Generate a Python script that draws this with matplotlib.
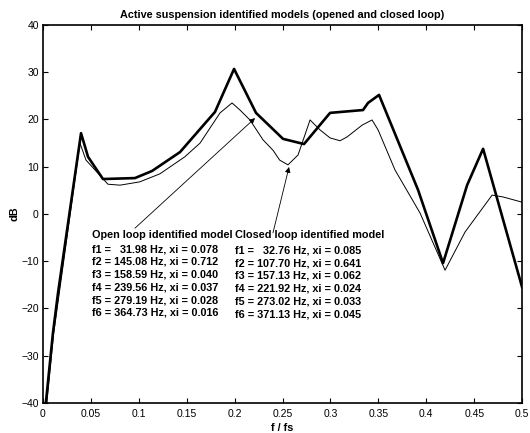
import numpy as np
import matplotlib
matplotlib.use('Agg')
import matplotlib.pyplot as plt

plt.rcParams['font.family'] = ['Liberation Sans', 'DejaVu Sans']

# open loop identified model (thick curve)
f_open = [0.003, 0.0104, 0.0157, 0.0397, 0.047, 0.0626, 0.096, 0.1138, 0.143, 0.1795,
          0.1994, 0.2223, 0.2505, 0.2724, 0.2996, 0.334, 0.3392, 0.3507, 0.3914, 0.4175,
          0.4426, 0.4593, 0.5]
db_open = [-40, -25.2, -16.7, 17.1, 12.1, 7.4, 7.6, 9.1, 13.1, 21.6,
           30.7, 21.4, 15.9, 14.8, 21.4, 22.0, 23.5, 25.2, 5.1, -10.4,
           6.1, 13.8, -15.5]

# closed loop identified model (thin curve)
f_closed = [0.004, 0.011, 0.0167, 0.0386, 0.0449, 0.0678, 0.0804, 0.101, 0.122, 0.148,
            0.1639, 0.1848, 0.1973, 0.2056, 0.216, 0.2296, 0.240, 0.247, 0.2557, 0.2662,
            0.2787, 0.2891, 0.2996, 0.31, 0.3173, 0.333, 0.3434, 0.3497, 0.3674, 0.3935,
            0.4196, 0.4405, 0.4687, 0.4802, 0.5]
db_closed = [-40, -25.5, -17.2, 15.0, 11.4, 6.3, 6.1, 6.8, 8.5, 12.1,
             15.0, 21.4, 23.5, 22.0, 19.9, 15.7, 13.5, 11.4, 10.4, 12.5,
             19.9, 17.8, 16.1, 15.5, 16.3, 18.8, 19.9, 17.8, 9.3, 0.2,
             -11.9, -3.8, 4.0, 3.6, 2.5]

open_lines = ['Open loop identified model',
              'f1 =   31.98 Hz, xi = 0.078',
              'f2 = 145.08 Hz, xi = 0.712',
              'f3 = 158.59 Hz, xi = 0.040',
              'f4 = 239.56 Hz, xi = 0.037',
              'f5 = 279.19 Hz, xi = 0.028',
              'f6 = 364.73 Hz, xi = 0.016']
closed_lines = ['Closed loop identified model',
                'f1 =   32.76 Hz, xi = 0.085',
                'f2 = 107.70 Hz, xi = 0.641',
                'f3 = 157.13 Hz, xi = 0.062',
                'f4 = 221.92 Hz, xi = 0.024',
                'f5 = 273.02 Hz, xi = 0.033',
                'f6 = 371.13 Hz, xi = 0.045']

fig = plt.figure(figsize=(5.3, 4.33), dpi=100)
ax = fig.add_axes([0.0811, 0.0693, 0.904, 0.873])

ax.plot(f_open, db_open, color='k', lw=1.9)
ax.plot(f_closed, db_closed, color='k', lw=0.7)

ax.set_xlim(0, 0.5)
ax.set_ylim(-40, 40)
ax.set_xticks(np.arange(0, 0.51, 0.05))
ax.set_xticklabels(['0', '0.05', '0.1', '0.15', '0.2', '0.25', '0.3', '0.35', '0.4', '0.45', '0.5'])
ax.set_yticks(np.arange(-40, 41, 10))
ax.tick_params(direction='in', top=True, right=True, length=3.6, width=0.8,
               labelsize=7.5, pad=3)
ax.tick_params(axis='x', pad=4.5)
for s in ax.spines.values():
    s.set_linewidth(1.2)

ax.set_title('Active suspension identified models (opened and closed loop)',
             fontsize=7.8, fontweight='bold', pad=5)
ax.set_xlabel('f / fs', fontsize=7.8, fontweight='bold', labelpad=3)
ax.set_ylabel('dB', fontsize=7.8, fontweight='bold', labelpad=1)

# texte des modeles
dy = 2.69
for i, s in enumerate(open_lines):
    y = -4.44 if i == 0 else -7.47 - (i - 1) * dy
    ax.text(0.0511, y, s, fontsize=7.8, fontweight='bold', va='center', ha='left')
for i, s in enumerate(closed_lines):
    y = -4.44 if i == 0 else -7.72 - (i - 1) * dy
    ax.text(0.2004, y, s, fontsize=7.8, fontweight='bold', va='center', ha='left')

arr = dict(arrowstyle='-|>', lw=0.6, color='k', mutation_scale=8, shrinkA=0, shrinkB=0)
ax.annotate('', xy=(0.2213, 20.3), xytext=(0.096, -3.0), arrowprops=arr)
ax.annotate('', xy=(0.2568, 9.95), xytext=(0.240, -4.0), arrowprops=arr)

fig.savefig('out.png', dpi=100)
